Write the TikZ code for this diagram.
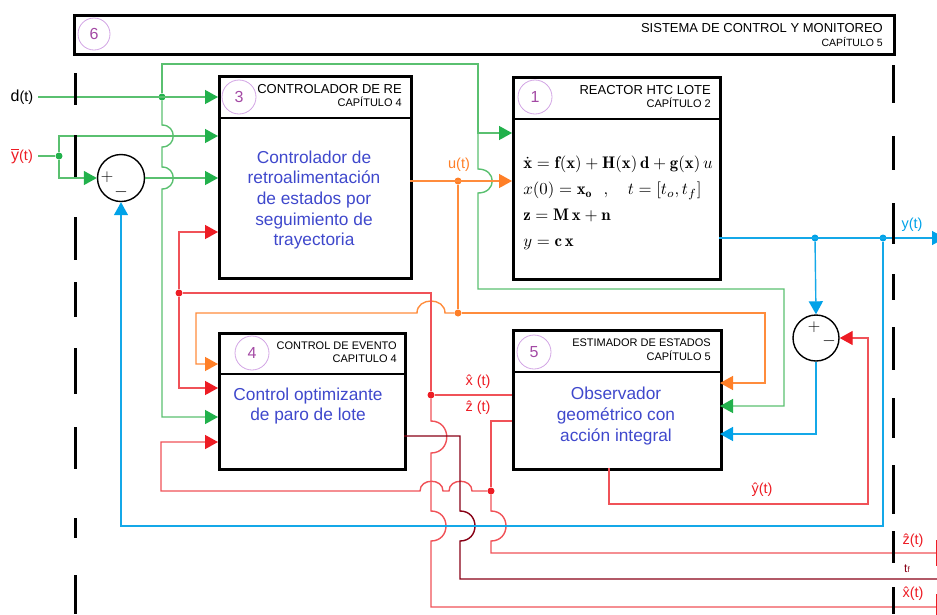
\documentclass[tikz,border=0pt]{standalone}
\usepackage{fontspec}
\setsansfont{Liberation Sans}
\usepackage{amsmath}
\usepackage{tikz}
\usetikzlibrary{arrows.meta}
\definecolor{lineGreen}{RGB}{90,192,112}
\definecolor{tipGreen}{RGB}{34,177,76}
\definecolor{lineOrange}{RGB}{255,140,60}
\definecolor{tipOrange}{RGB}{255,127,39}
\definecolor{lineRed}{RGB}{240,82,88}
\definecolor{tipRed}{RGB}{237,28,36}
\definecolor{lineBlue}{RGB}{20,168,232}
\definecolor{tipBlue}{RGB}{0,162,232}
\definecolor{darkRed}{RGB}{136,0,21}
\definecolor{numPurple}{RGB}{163,73,164}
\definecolor{ringLilac}{RGB}{210,165,228}
\definecolor{textBlue}{RGB}{63,72,204}

\tikzset{
	wire/.style={line width=1.4pt},
	gwire/.style={wire, draw=lineGreen},
	owire/.style={wire, draw=lineOrange},
	rwire/.style={wire, draw=lineRed},
	bwire/.style={wire, draw=lineBlue},
	dwire/.style={wire, draw=darkRed},
	headin/.style={-{Triangle[length=13pt,width=14pt,color=#1]}},
	barout/.style={-{Bar[width=26pt,color=#1]}},
	jdot/.style={circle, inner sep=0pt, minimum size=7pt},
	block/.style={rectangle, draw=black, line width=2.5pt, anchor=north west, inner sep=0pt},
	divider/.style={line width=2.5pt, black},
	numring/.style={circle, draw=ringLilac, line width=0.8pt, minimum size=34pt, inner sep=0pt, text=numPurple, font=\sffamily\fontsize{16}{16}\selectfont},
	hdr/.style={anchor=base east, inner sep=0pt, font=\sffamily\fontsize{12}{12}\selectfont},
	chap/.style={anchor=base east, inner sep=0pt, font=\sffamily\fontsize{10.5}{10.5}\selectfont},
	body/.style={align=center, text=textBlue, font=\sffamily\fontsize{17.3}{20.6}\selectfont},
	eqs/.style={anchor=west, align=left, inner sep=0pt, scale=1.68, font=\fontsize{10}{15.5}\selectfont},
	sumnode/.style={circle, draw=black, line width=1.4pt, minimum size=47pt, inner sep=0pt},
	pm/.style={inner sep=0pt, font=\fontsize{16}{16}\selectfont},
	sig/.style={inner sep=1pt, font=\sffamily\fontsize{14.5}{14.5}\selectfont},
	boundary/.style={line width=3pt, black}
}

\begin{document}
\begin{tikzpicture}[x=1pt,y=-1pt]
\useasboundingbox (0,0) rectangle (937,614);
% sistema (6)
\node[block, minimum width=820pt, minimum height=39pt] (sys) at (73,14) {};
\node[numring, minimum size=32pt] (n6) at (94,34) {6};
\node[hdr, font=\sffamily\fontsize{13}{13}\selectfont] (t6) at (883,32) {SISTEMA DE CONTROL Y MONITOREO};
\node[chap] (c6) at (883,46) {CAPÍTULO 5};
% controlador (3)
\node[block, minimum width=192pt, minimum height=202pt] (ctrl) at (218,75) {};
\draw[divider] ([yshift=-43pt]ctrl.north west) -- ([yshift=-43pt]ctrl.north east);
\node[numring] (n3) at (239,97) {3};
\node[hdr, font=\sffamily\fontsize{13}{13}\selectfont] (t3) at (402,93) {CONTROLADOR DE RE};
\node[chap, font=\sffamily\fontsize{11}{11}\selectfont] (c3) at (402,106) {CAPÍTULO 4};
\node[body] (b3) at (314,200) {Controlador de\\retroalimentación\\de estados por\\seguimiento de\\trayectoria};
% reactor (1)
\node[block, minimum width=207pt, minimum height=202pt] (reactor) at (512,76) {};
\draw[divider] ([yshift=-43pt]reactor.north west) -- ([yshift=-43pt]reactor.north east);
\node[numring] (n1) at (535,97) {1};
\node[hdr, font=\sffamily\fontsize{13}{13}\selectfont] (t1) at (711,94) {REACTOR HTC LOTE};
\node[chap, font=\sffamily\fontsize{11}{11}\selectfont] (c1) at (711,107) {CAPÍTULO 2};
\node[eqs] (e1) at (523,203) {$\dot{\mathbf{x}} = \mathbf{f(x)} + \mathbf{H(x)}\,\mathbf{d} + \mathbf{g(x)}\,u$\\
	$x(0) = \mathbf{x_o}\ \ ,\quad t = [t_o, t_f]$\\
	$\mathbf{z} = \mathbf{M}\,\mathbf{x} + \mathbf{n}$\\
	$y = \mathbf{c}\,\mathbf{x}$};
% evento (4)
\node[block, minimum width=186pt, minimum height=136pt] (event) at (218,332) {};
\draw[divider] ([yshift=-42pt]event.north west) -- ([yshift=-42pt]event.north east);
\node[numring] (n4) at (252,353) {4};
\node[hdr, font=\sffamily\fontsize{11}{11}\selectfont] (t4) at (397,349) {CONTROL DE EVENTO};
\node[chap, font=\sffamily\fontsize{11}{11}\selectfont] (c4) at (397,362) {CAPITULO 4};
\node[body] (b4) at (308,406) {Control optimizante\\de paro de lote};
% estimador (5)
\node[block, minimum width=208pt, minimum height=139pt] (observer) at (512,329) {};
\draw[divider] ([yshift=-43pt]observer.north west) -- ([yshift=-43pt]observer.north east);
\node[numring] (n5) at (534,352) {5};
\node[hdr, font=\sffamily\fontsize{11}{11}\selectfont] (t5) at (711,346) {ESTIMADOR DE ESTADOS};
\node[chap, font=\sffamily\fontsize{11}{11}\selectfont] (c5) at (711,360) {CAPÍTULO 5};
\node[body] (b5) at (616,416) {Observador\\geométrico con\\acción integral};
% sumadores
\node[sumnode] (sumL) at (121,178) {};
\node[pm] (pL) at (107,177) {$+$};
\node[pm] (mL) at (121,192) {$-$};
\node[sumnode, minimum size=46pt] (sumR) at (816,338) {};
\node[pm] (pR) at (814,327) {$+$};
\node[pm] (mR) at (829,341) {$-$};
% etiquetas
\node[sig] (lblD) at (22,97) {{\fontsize{16}{16}\selectfont d}(t)};
\node[sig, text=tipRed] (lblY) at (22,156) {{\fontsize{16}{16}\selectfont$\overline{\mbox{y}}$}(t)};
\node[sig, text=tipOrange] (lblU) at (459,165) {u(t)};
\node[sig, text=tipBlue] (lblYo) at (912,225) {y(t)};
\node[sig, text=tipRed] (lblX) at (478,382) {\^{x} (t)};
\node[sig, text=tipRed] (lblZ) at (478,408) {\^{z} (t)};
\node[sig, text=tipRed] (lblYh) at (762,490) {\^{y}(t)};
\node[sig, text=tipRed] (lblZo) at (913,541) {\^{z}(t)};
\node[sig, text=darkRed, font=\sffamily\fontsize{12}{12}\selectfont] (lblT) at (907,569) {t{\fontsize{8}{8}\selectfont f}};
\node[sig, text=tipRed] (lblXo) at (913,594) {\^{x}(t)};
% puntos de union
\node[jdot, fill=tipGreen] (jd) at (162,97) {};
\node[jdot, fill=tipGreen] (jy) at (59,156) {};
\node[jdot, fill=tipOrange] (ju) at (458,181) {};
\node[jdot, fill=tipOrange] (ju2) at (458,313) {};
\node[jdot, fill=tipRed] (jr) at (179,293) {};
\node[jdot, fill=tipRed] (jx) at (431,395) {};
\node[jdot, fill=tipRed] (jz) at (491,491) {};
\node[jdot, fill=tipBlue] (jb1) at (815,238) {};
\node[jdot, fill=tipBlue] (jb2) at (883,238) {};
% entradas y salidas
\coordinate (inC1) at (218,97);
\coordinate (inC2) at (218,136);
\coordinate (inC3) at (218,178);
\coordinate (inC4) at (218,232);
\coordinate (inR1) at (512,133);
\coordinate (inR2) at (512,181);
\coordinate (inE1) at (218,364);
\coordinate (inE2) at (218,388);
\coordinate (inE3) at (218,417);
\coordinate (inE4) at (218,442);
\coordinate (inO1) at (720,383);
\coordinate (inO2) at (720,406);
\coordinate (inO3) at (720,434);
\coordinate (outC) at (410,181);
\coordinate (outR) at (719,238);
\coordinate (outE) at (404,436);
\coordinate (outOx) at (512,395);
\coordinate (outOz) at (512,421);
\coordinate (outOy) at (609,468);
\coordinate (outY) at (945,238);
\coordinate (outZ) at (937,553);
\coordinate (outT) at (937,579);
\coordinate (outX) at (937,607);
\coordinate (gA) at (478,64);
\coordinate (gS) at (478,133);
\coordinate (gB) at (784,289);
\coordinate (oA) at (196,313);
\coordinate (oB) at (765,313);
\coordinate (rB) at (161,491);
\coordinate (yA) at (868,504);
\coordinate (dA) at (460,436);
\coordinate (bA) at (883,526);
% verde
\draw[gwire, headin=tipGreen] ([xshift=4pt]lblD.east) -- (inC1);
\draw[gwire, headin=tipGreen] (jd) |- (gA) |- (inR1);
\draw[gwire, headin=tipGreen] (gS) -- (478,169) .. controls +(19,0) and +(19,0) .. (478,193) |- (gB) |- (inO2);
\draw[gwire, headin=tipGreen] (jd) -- (162,125) .. controls +(15,0) and +(15,0) .. (162,147) -- (162,167) .. controls +(15,0) and +(15,0) .. (162,189) |- (inE3);
\draw[gwire] ([xshift=4pt]lblY.east) -- (jy);
\draw[gwire, headin=tipGreen] (jy) |- (inC2);
\draw[gwire, headin=tipGreen] (jy) |- (sumL.west);
\draw[gwire, headin=tipGreen] (sumL.east) -- (inC3);
% naranja
\draw[owire, headin=tipOrange] (outC) -- (inR2);
\draw[owire] (ju) -- (ju2);
\draw[owire, headin=tipOrange] (ju2) -- (445,313) .. controls +(0,-16) and +(0,-16) .. (417,313) -- (oA) |- (inE1);
\draw[owire, headin=tipOrange] (ju2) -- (oB) |- (inO1);
% rojo
\draw[rwire] (outOx) -- (jx);
\draw[rwire] (jx) |- (jr);
\draw[rwire, headin=tipRed] (jr) |- (inC4);
\draw[rwire, headin=tipRed] (jr) |- (inE2);
\draw[rwire, barout=tipRed] (jx) -- (431,421) .. controls +(21,0) and +(21,0) .. (431,453) -- (431,511) .. controls +(20,0) and +(20,0) .. (431,541) |- (outX);
\draw[rwire] (outOz) -| (jz);
\draw[rwire, barout=tipRed] (jz) -- (491,511) .. controls +(20,0) and +(20,0) .. (491,541) |- (outZ);
\draw[rwire, headin=tipRed] (jz) -- (472,491) .. controls +(0,-13) and +(0,-13) .. (449,491) -- (443,491) .. controls +(0,-13) and +(0,-13) .. (420,491) -- (rB) |- (inE4);
\draw[rwire, headin=tipRed] (outOy) |- (yA) |- (sumR.east);
% guinda
\draw[dwire] (outE) -- (dA) -- (460,511) .. controls +(20,0) and +(20,0) .. (460,541) |- (outT);
% azul
\draw[bwire, headin=tipBlue] (outR) -- (outY);
\draw[bwire, headin=tipBlue] (jb1) -- (sumR.north);
\draw[bwire, headin=tipBlue] (sumR.south) |- (inO3);
\draw[bwire, headin=tipBlue] (jb2) -- (bA) -| (sumL.south);
% fronteras
\foreach \a/\b in {73/105,135/177,217/260,282/317,348/394,427/469,518/538,575/614}
	\draw[boundary] (75,\a) -- (75,\b);
\foreach \a/\b in {65/103,136/170,203/244,274/300,327/370,398/438,465/514,531/563,587/614}
	\draw[boundary] (893,\a) -- (893,\b);
\end{tikzpicture}
\end{document}
